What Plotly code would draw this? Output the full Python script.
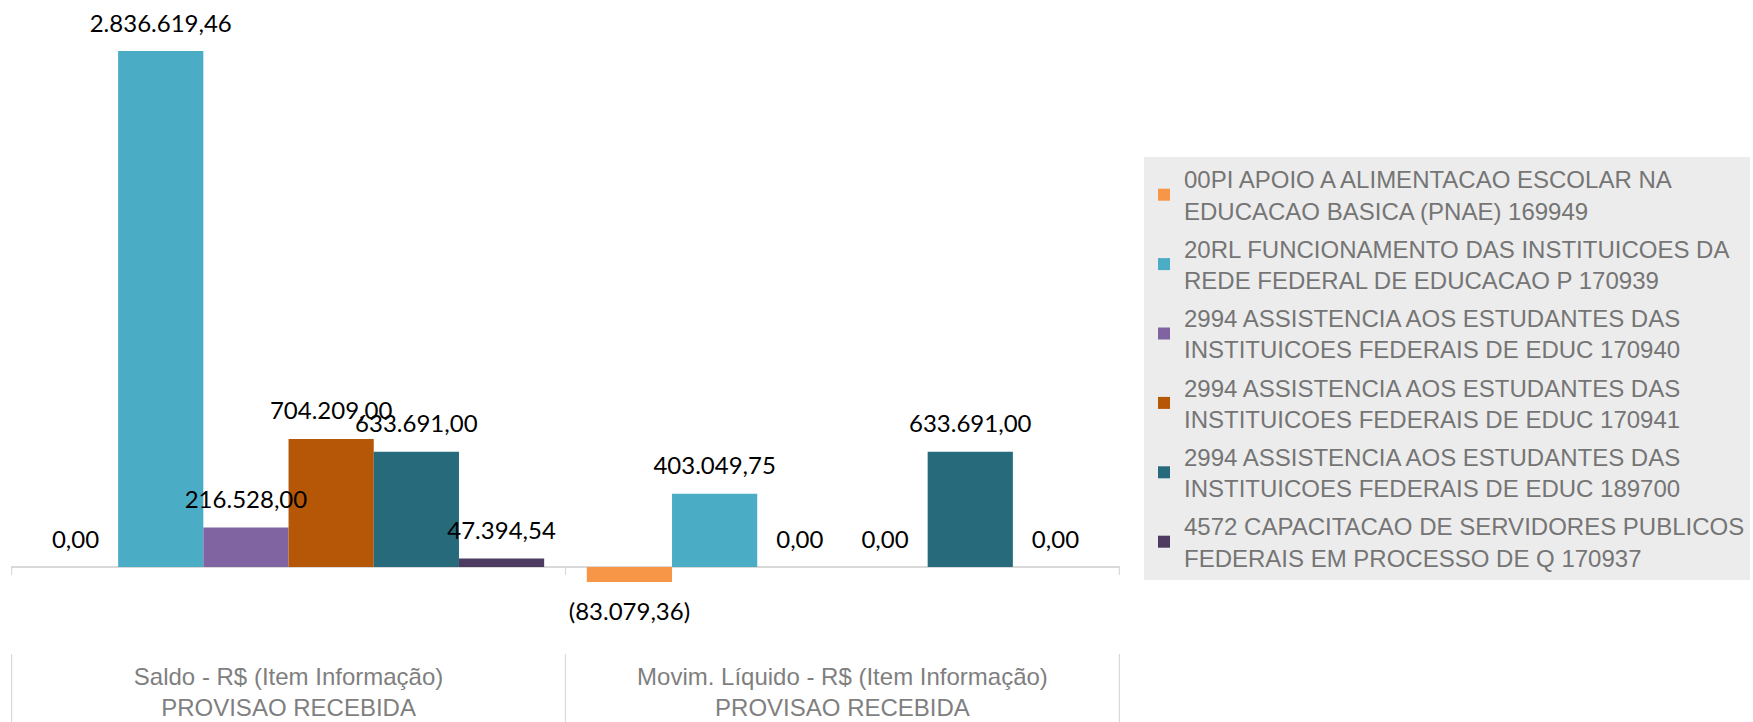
import plotly.graph_objects as go

categories = [
    "Saldo - R$ (Item Informação)<br>PROVISAO RECEBIDA",
    "Movim. Líquido - R$ (Item Informação)<br>PROVISAO RECEBIDA",
]
series_names = [
    "00PI APOIO A ALIMENTACAO ESCOLAR NA<br>EDUCACAO BASICA (PNAE) 169949",
    "20RL FUNCIONAMENTO DAS INSTITUICOES DA<br>REDE FEDERAL DE EDUCACAO P 170939",
    "2994 ASSISTENCIA AOS ESTUDANTES DAS<br>INSTITUICOES FEDERAIS DE EDUC 170940",
    "2994 ASSISTENCIA AOS ESTUDANTES DAS<br>INSTITUICOES FEDERAIS DE EDUC 170941",
    "2994 ASSISTENCIA AOS ESTUDANTES DAS<br>INSTITUICOES FEDERAIS DE EDUC 189700",
    "4572 CAPACITACAO DE SERVIDORES PUBLICOS<br>FEDERAIS EM PROCESSO DE Q 170937",
]
s_00pi = [0.00, -83079.36]
s_20rl = [2836619.46, 403049.75]
s_170940 = [216528.00, 0.00]
s_170941 = [704209.00, 0.00]
s_189700 = [633691.00, 633691.00]
s_4572 = [47394.54, 0.00]
series_values = [s_00pi, s_20rl, s_170940, s_170941, s_189700, s_4572]
series_colors = ["#F79646", "#4BACC6", "#8064A2", "#B65708", "#276A7C", "#4D3B62"]


def br(v):
    s = f"{abs(v):,.2f}".replace(",", "X").replace(".", ",").replace("X", ".")
    return f"({s})" if v < 0 else s


W, H = 1753, 722
top_px, bottom_px, zero_px, peak_px = 10, 660, 567, 51
sep_top_px = 654
vmax = max(max(v) for v in series_values)
ppu = (zero_px - peak_px) / vmax
y_range = [-(bottom_px - zero_px) / ppu, (zero_px - top_px) / ppu]
GAP = 0.077

fig = go.Figure()
for i, (name, vals, col) in enumerate(zip(series_names, series_values, series_colors)):
    fig.add_trace(go.Bar(
        x=categories, y=vals, name=name, marker_color=col,
        marker_line_width=0, legendgroup=f"g{i}", hoverinfo="skip",
    ))
# data labels drawn above all bars
for i, vals in enumerate(series_values):
    fig.add_trace(go.Scatter(
        x=categories, y=vals, mode="markers+text",
        marker=dict(size=[31 if v < 0 else 20 for v in vals], opacity=0),
        text=[br(v) for v in vals],
        textposition=["bottom center" if v < 0 else "top center" for v in vals],
        textfont=dict(family="Lato", size=24, color="#000000"),
        cliponaxis=False, showlegend=False, hoverinfo="skip",
    ))

plot_h = bottom_px - top_px
shapes = []
for xb in [-0.5, 0.5, 1.5]:
    shapes.append(dict(type="line", xref="x", yref="paper", x0=xb, x1=xb,
                       y0=(bottom_px - sep_top_px) / plot_h, y1=-(H - bottom_px) / plot_h,
                       line=dict(color="#d9d9d9", width=1.2)))
    shapes.append(dict(type="line", xref="x", yref="y", x0=xb, x1=xb,
                       y0=0, y1=-8 / ppu,
                       line=dict(color="#d9d9d9", width=1.2)))

fig.update_layout(
    width=W, height=H,
    margin=dict(l=11, r=W - 1120, t=top_px, b=H - bottom_px, autoexpand=False),
    barmode="group", bargap=GAP, bargroupgap=0,
    scattermode="group", scattergap=GAP,
    plot_bgcolor="white", paper_bgcolor="white",
    font=dict(family="Liberation Sans"),
    showlegend=True,
    legend=dict(
        xref="container", yref="container",
        x=1144 / W, y=1 - 157 / H, xanchor="left", yanchor="top",
        bgcolor="#ececec", borderwidth=0, maxheight=1,
        font=dict(family="Liberation Sans", size=24, color="#757575"),
        tracegroupgap=4, traceorder="grouped",
    ),
    xaxis=dict(showline=False, ticks="", showgrid=False, automargin=False,
               tickfont=dict(family="Liberation Sans", size=24, color="#7f7f7f")),
    yaxis=dict(range=y_range, showgrid=False, showticklabels=False, showline=False,
               ticks="", zeroline=True, zerolinecolor="#d9d9d9", zerolinewidth=1.5,
               automargin=False),
    shapes=shapes,
)
fig.write_html("out.html", config={"displayModeBar": False},
               post_script="document.body.style.margin='0px';")
